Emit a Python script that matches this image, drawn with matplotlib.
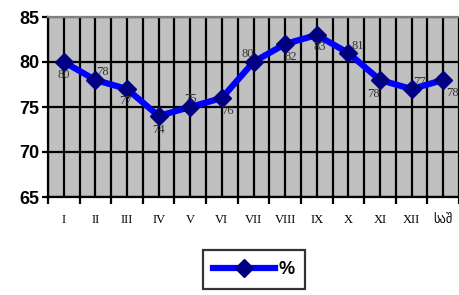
import numpy as np
import matplotlib.pyplot as plt
from matplotlib.lines import Line2D

months = ["I", "II", "III", "IV", "V", "VI", "VII", "VIII", "IX", "X", "XI", "XII", "საშ"]
values = [80, 78, 77, 74, 75, 76, 80, 82, 83, 81, 78, 77, 78]
yticks = [65, 70, 75, 80, 85]
# label offsets in points (dx, dy)
label_offsets = [(0, -9), (5, 6), (-1, -9), (0, -10), (0, 6), (4, -9),
                 (-4, 6), (4, -9), (2, -9), (7, 5), (-5, -10), (6, 5), (7, -9)]

fig = plt.figure(figsize=(4.59, 2.95), dpi=100)
ax = fig.add_axes([48 / 459, 1 - 197 / 295, 411 / 459, 180 / 295])
ax.set_facecolor("#C0C0C0")

x = np.arange(len(values))
ax.set_xlim(-0.5, len(values) - 0.5)
ax.set_ylim(65, 85)

# gridlines: category boundaries and centers
for b in np.arange(-0.5, len(values), 0.5):
    ax.axvline(b, color="black", lw=1.6, zorder=1)
for yv in yticks:
    ax.axhline(yv, color="black", lw=1.6, zorder=1)

ax.plot(x, values, color="#0000FF", lw=4.5, marker="D", ms=9,
        mfc="#000080", mec="#000080", zorder=3, solid_joinstyle="miter")

for xi, v, (dx, dy) in zip(x, values, label_offsets):
    ax.annotate(str(v), (xi, v), xytext=(dx, dy), textcoords="offset points",
                ha="center", va="center", fontsize=9, color="#333333",
                family=["Liberation Serif", "DejaVu Sans"], zorder=4)

ax.set_xticks(np.arange(-0.5, len(values), 1.0))
ax.set_xticklabels([])
ax.set_xticks(x, minor=True)
ax.set_xticklabels(months, minor=True, family=["Liberation Serif", "DejaVu Sans"], fontsize=9)
ax.tick_params(axis="x", which="major", length=5, width=1.6, direction="out")
ax.tick_params(axis="x", which="minor", length=0, pad=12)

ax.set_yticks(yticks)
ax.set_yticklabels([str(t) for t in yticks], fontsize=13, fontweight="bold",
                   family="Liberation Sans")
ax.tick_params(axis="y", length=4, width=1.6, pad=2)

for s in ["left", "bottom"]:
    ax.spines[s].set_color("black")
    ax.spines[s].set_linewidth(1.6)
ax.spines["top"].set_color("#808080")
ax.spines["top"].set_linewidth(1.6)
ax.spines["right"].set_visible(False)

handle = Line2D([], [], color="#0000FF", lw=4.5, marker="D", ms=9,
                mfc="#000080", mec="#000080")
leg = fig.legend([handle], ["%"], loc="center", bbox_to_anchor=(254 / 459, 1 - 269.5 / 295),
                 frameon=True, fancybox=False, handlelength=3.4, handletextpad=0.2,
                 borderpad=0.6, borderaxespad=0,
                 prop={"family": "Liberation Sans", "weight": "bold", "size": 13})
leg.get_frame().set_edgecolor("black")
leg.get_frame().set_linewidth(1.6)

fig.savefig("out.png", dpi=100)
